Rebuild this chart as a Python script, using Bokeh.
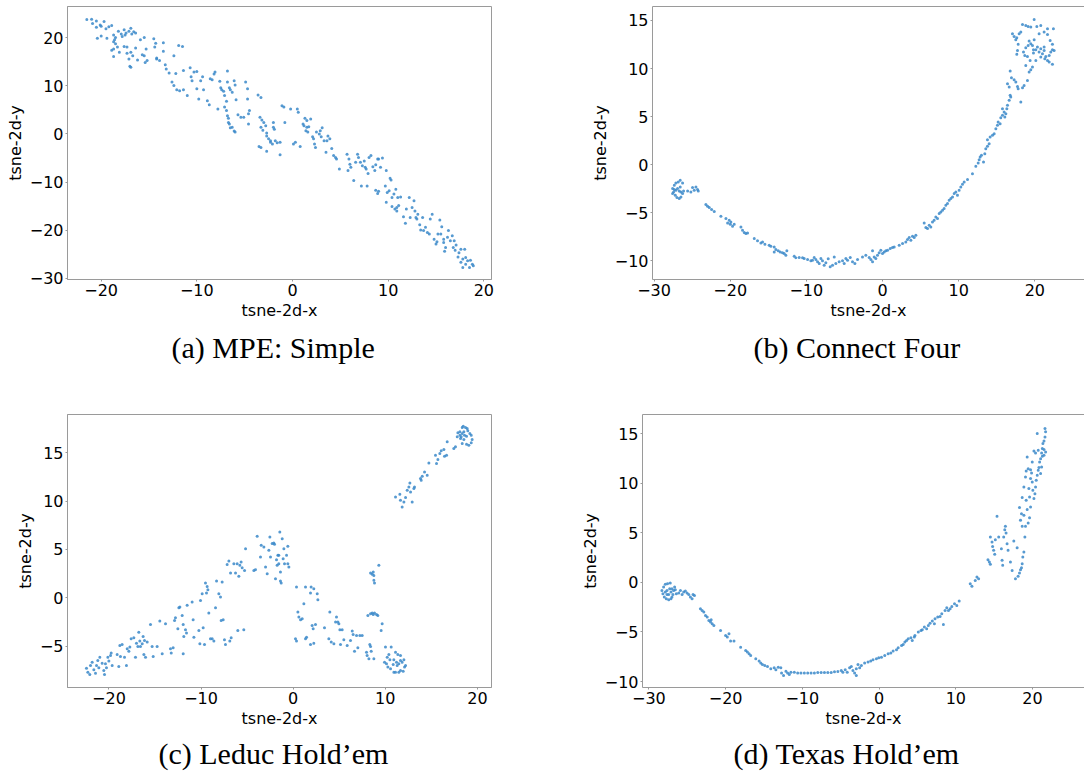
from bokeh.plotting import figure
from bokeh.models import Range1d, FixedTicker, LinearAxis
from bokeh.layouts import row, column
from bokeh.embed import file_html
from bokeh.resources import INLINE

# ---------------- data ----------------
mpe_pts = [
    (-21.5, 23.8), (-21.0, 23.9), (-20.9, 23.0), (-20.5, 23.5), (-20.1, 22.7), (-19.7, 23.4), (-20.5, 22.2),
    (-20.0, 22.4), (-19.5, 21.9), (-19.2, 22.3), (-18.9, 22.6), (-20.4, 19.9), (-20.0, 20.4), (-19.4, 19.9),
    (-18.7, 20.6), (-18.5, 20.1), (-18.2, 21.4), (-17.9, 20.8), (-17.6, 21.7), (-17.5, 20.6), (-17.4, 21.0),
    (-17.1, 21.4), (-16.9, 22.0), (-16.8, 20.8), (-16.6, 21.3), (-16.4, 21.0),
    (-18.7, 19.2), (-18.6, 19.6), (-18.5, 18.8), (-18.3, 18.1), (-18.7, 17.7), (-18.9, 17.4), (-18.7, 16.1),
    (-18.1, 17.0), (-17.8, 20.3), (-17.6, 18.2), (-17.3, 18.1), (-17.3, 16.8), (-16.9, 17.0), (-17.1, 15.6),
    (-17.0, 14.1), (-16.9, 13.9), (-16.7, 16.3), (-16.4, 17.9), (-16.2, 15.4), (-15.9, 19.6), (-15.7, 16.5),
    (-15.5, 16.3), (-15.5, 20.1), (-15.3, 17.7), (-15.4, 14.9), (-15.2, 15.3), (-14.5, 19.8), (-14.4, 18.1),
    (-14.3, 18.9), (-14.2, 15.6), (-14.2, 15.8), (-13.9, 15.3), (-13.5, 17.2), (-13.5, 19.0), (-13.3, 14.4),
    (-13.2, 13.5), (-12.9, 12.7), (-12.4, 16.3), (-11.9, 18.4), (-11.5, 18.2), (-11.4, 13.2), (-12.2, 12.6),
    (-12.6, 10.8), (-12.4, 10.1), (-12.1, 9.2), (-11.8, 9.0), (-11.4, 9.2), (-11.0, 8.0), (-10.7, 13.8),
    (-10.6, 11.9), (-10.5, 11.1), (-10.3, 12.9), (-10.0, 13.0), (-10.0, 9.4), (-9.8, 7.3), (-9.6, 11.1),
    (-9.4, 11.9), (-9.3, 9.2), (-8.9, 6.9), (-8.7, 6.1), (-8.6, 11.5), (-8.4, 11.3), (-8.2, 12.5),
    (-8.1, 12.9), (-7.8, 5.2), (-7.6, 11.0), (-7.5, 9.6), (-7.4, 9.2), (-7.2, 8.9), (-7.1, 8.0),
    (-6.9, 6.8), (-6.8, 13.1), (-6.8, 10.8), (-6.6, 9.6), (-6.5, 9.2), (-6.3, 8.7), (-6.1, 11.1),
    (-6.0, 10.2), (-5.9, 7.1), (-5.7, 4.0), (-5.4, 3.5), (-4.9, 10.8), (-5.1, 3.5), (-4.7, 9.4),
    (-4.7, 7.3), (-4.6, 4.2), (-4.5, 4.9), (-4.6, 2.1),
    (-7.1, 5.6), (-6.9, 4.9), (-6.8, 3.8), (-6.7, 3.3), (-6.7, 2.4), (-6.6, 2.1), (-6.5, 1.3),
    (-6.3, 1.4), (-6.1, 0.6), (-6.0, 0.4),
    (-3.6, 8.1), (-3.3, 7.6), (-3.4, 3.5), (-3.2, 2.9), (-3.0, 2.4), (-2.8, 1.7), (-3.3, 1.4),
    (-3.1, 0.8), (-2.7, 0.2), (-2.7, -0.4), (-2.5, -1.0), (-2.3, -1.7), (-2.1, -2.1), (-2.0, 1.4),
    (-2.0, 2.4), (-1.9, 1.0), (-3.5, -2.6), (-3.3, -2.8), (-2.7, -3.6), (-2.3, -1.4), (-1.8, -1.4),
    (-1.6, -1.8), (-1.3, -1.7), (-1.3, -4.3), (-1.1, 5.9), (-0.9, 5.6), (-0.8, 2.4), (-0.2, 5.2),
    (0.1, -2.1), (0.3, -1.7), (0.5, 5.2), (0.6, 4.5), (0.8, -2.6), (1.1, 2.1), (1.2, 1.7),
    (1.3, 3.3), (1.5, 2.8), (1.4, 0.7), (1.5, 1.4), (1.6, 0.4), (1.7, 1.5), (1.9, 3.1),
    (2.1, -0.6), (2.2, -1.0), (2.3, -2.1), (2.4, -2.8), (2.5, 0.4), (2.8, 0.0), (2.9, 0.7),
    (3.0, -0.6), (3.1, 1.3), (3.3, -1.4), (3.6, -1.4), (3.7, -0.4), (3.5, -3.8), (3.9, -1.0),
    (4.1, -3.0), (4.3, -4.5), (4.5, -4.9), (4.6, -5.2), (4.9, -7.3),
    (5.7, -4.2), (5.9, -5.2), (6.0, -6.3), (6.1, -6.9), (5.8, -7.6), (6.4, -9.7), (6.6, -5.9),
    (6.8, -4.2), (6.9, -4.9), (7.1, -5.9), (7.2, -10.8), (7.3, -6.6), (7.5, -5.6), (7.6, -6.9),
    (7.7, -7.3), (7.8, -10.8), (7.9, -8.2), (8.0, -4.9), (8.2, -4.5), (8.4, -6.8), (8.7, -6.4),
    (8.6, -7.6), (8.9, -5.2), (9.0, -5.2), (9.2, -6.9), (9.4, -5.0), (9.8, -7.6),
    (8.7, -11.7), (8.9, -12.4), (9.0, -11.9), (9.7, -10.8), (9.9, -12.2), (9.8, -14.2), (10.1, -11.8),
    (10.2, -9.2), (10.3, -9.6), (10.4, -13.2), (10.6, -12.5), (10.8, -11.5), (10.9, -15.3), (11.0, -13.2),
    (11.3, -13.1), (10.4, -15.1), (10.7, -15.6), (10.9, -16.0), (11.1, -14.9), (11.6, -17.2), (11.8, -18.6),
    (11.9, -15.6), (12.2, -13.2), (12.3, -17.4), (12.5, -15.3), (12.7, -13.9), (12.8, -16.0), (12.9, -17.4),
    (13.0, -17.7), (13.1, -16.7), (13.3, -18.9), (13.4, -20.0), (13.6, -17.4), (13.7, -20.1), (13.9, -19.4),
    (14.1, -20.5), (14.3, -20.8), (14.4, -17.7), (14.6, -16.7),
    (14.8, -21.9), (15.0, -22.9), (15.1, -22.4), (15.2, -20.8), (15.4, -17.9), (15.5, -20.8), (15.6, -19.3),
    (15.8, -21.9), (15.9, -24.4), (16.0, -23.6), (15.8, -22.6), (16.2, -21.5), (16.3, -20.1), (16.5, -22.2),
    (16.7, -21.2), (16.8, -23.6), (16.9, -22.2), (17.0, -24.2), (17.1, -23.1), (17.3, -25.6), (17.4, -24.7),
    (17.6, -24.0), (17.8, -26.0), (18.0, -24.0), (18.1, -25.7), (17.6, -26.7), (17.8, -27.8), (18.1, -27.1),
    (18.3, -26.4), (18.5, -27.8), (18.6, -26.3), (18.8, -27.1), (18.9, -27.4),
]

connect4_pts = [
    (-27.56, -2.49), (-27.43, -2.84), (-27.34, -2.15), (-27.21, -3.19), (-27.13, -1.91), (-26.99, -3.43),
    (-26.82, -1.80), (-26.69, -3.53), (-26.47, -3.36), (-26.25, -1.91), (-26.25, -3.01), (-26.56, -2.32),
    (-26.91, -2.49), (-26.69, -2.74), (-27.13, -2.67), (-26.47, -2.84), (-26.12, -2.74), (-27.34, -2.60),
    (-27.56, -3.01), (-25.59, -2.74), (-25.16, -2.84), (-24.94, -2.39), (-24.72, -2.67), (-24.50, -2.32),
    (-24.28, -2.60), (-24.19, -2.74), (-26.56, -1.63),
    (-23.19, -4.16), (-22.97, -4.33), (-22.75, -4.47), (-22.44, -4.68), (-22.09, -4.88), (-21.22, -5.37),
    (-20.56, -5.61), (-20.13, -5.79), (-19.99, -6.20), (-19.69, -6.41), (-19.47, -6.20), (-19.91, -5.96),
    (-20.34, -6.06), (-18.59, -6.48), (-18.38, -6.82), (-18.16, -7.07), (-17.94, -7.17), (-17.72, -7.10),
    (-16.84, -7.69), (-16.41, -7.93), (-15.97, -8.14), (-15.75, -8.04), (-15.44, -8.28), (-14.88, -8.38),
    (-14.66, -8.49), (-14.22, -8.56), (-14.00, -8.83), (-13.69, -8.97), (-13.43, -9.08), (-13.13, -9.18),
    (-12.91, -9.25), (-12.69, -9.42), (-14.22, -9.08), (-12.56, -8.97), (-11.59, -9.53), (-11.38, -9.70),
    (-10.94, -9.66), (-10.50, -9.70), (-10.28, -9.77), (-9.84, -9.87), (-9.41, -10.01), (-9.19, -9.94),
    (-8.97, -9.66), (-8.75, -9.87), (-8.53, -10.11), (-8.31, -10.29), (-8.09, -9.77), (-7.88, -10.01),
    (-7.66, -10.46), (-7.44, -10.22), (-7.13, -9.80), (-6.87, -10.63), (-6.56, -10.46), (-6.34, -9.60),
    (-6.13, -10.29), (-5.69, -10.11), (-5.25, -10.01), (-5.03, -10.29), (-4.81, -9.77), (-4.59, -9.94),
    (-4.24, -9.66), (-3.94, -10.11), (-3.63, -10.29), (-3.28, -9.87), (-2.63, -9.60), (-2.19, -9.42),
    (-1.75, -9.66), (-1.53, -9.87), (-1.31, -10.11), (-1.09, -9.60), (-1.31, -8.97), (-0.88, -9.77),
    (-0.66, -9.42), (-0.44, -9.18), (-0.22, -8.90), (0.00, -9.25), (0.22, -9.08), (0.44, -8.97),
    (0.66, -8.90), (1.01, -8.73), (1.31, -8.63), (1.53, -8.56), (2.19, -8.38), (2.63, -8.21),
    (3.06, -8.04), (3.28, -7.79), (3.50, -7.59), (3.72, -7.86), (3.94, -7.45), (4.16, -7.59),
    (4.38, -7.34), (5.47, -6.06), (5.69, -6.55), (5.91, -6.65), (6.13, -6.30), (6.34, -6.48),
    (6.56, -5.96), (6.78, -5.79), (7.00, -5.44), (7.22, -5.61), (7.44, -5.09), (7.66, -4.92),
    (7.88, -4.75), (8.09, -4.57), (8.31, -4.23), (8.53, -4.05), (8.75, -3.71), (8.97, -3.53),
    (9.19, -3.36), (9.41, -3.01), (9.63, -2.84), (9.84, -3.19), (10.06, -2.67), (10.28, -2.32),
    (10.50, -2.04), (10.72, -1.80), (11.16, -1.56), (11.81, -0.94), (12.25, -0.17), (12.56, 0.17),
    (12.69, 0.52), (12.82, 0.80), (12.99, 0.97), (13.26, 0.28), (13.43, 1.14), (13.56, 1.66),
    (13.78, 1.91), (14.00, 2.18), (13.78, 2.60), (14.13, 2.88), (14.44, 3.05), (14.66, 3.22),
    (14.88, 3.74), (15.09, 4.09), (15.18, 4.43), (15.44, 4.26), (15.53, 4.88), (15.75, 5.13),
    (15.97, 5.47), (15.75, 5.82), (16.06, 4.95), (16.19, 5.30), (16.32, 5.82), (16.41, 6.17),
    (16.63, 6.69), (16.76, 7.21), (16.84, 7.03), (16.63, 8.07), (16.41, 8.42), (16.76, 9.73),
    (16.93, 9.04), (17.28, 8.83), (17.50, 8.59), (17.72, 8.14), (17.81, 7.90), (18.16, 6.51),
    (18.38, 8.00), (18.59, 8.24), (19.03, 8.76), (19.25, 9.63), (19.47, 9.87), (19.69, 10.15),
    (19.38, 10.84), (18.81, 10.32), (19.03, 11.26), (18.68, 11.36), (18.51, 11.71), (18.81, 12.16),
    (19.12, 12.40), (19.47, 12.57), (19.91, 12.99), (20.13, 11.95), (20.34, 12.23), (20.56, 11.71),
    (20.78, 11.19), (21.00, 11.54), (21.22, 11.88), (21.31, 11.02), (21.44, 11.26), (21.66, 10.84),
    (21.88, 11.36), (22.09, 11.71), (22.31, 11.95), (22.53, 11.88), (22.31, 10.43), (21.88, 10.67),
    (20.78, 12.05), (19.82, 11.95), (19.69, 12.40), (19.91, 15.10), (19.47, 14.31), (20.26, 14.38),
    (20.56, 13.61), (20.78, 14.48), (21.22, 13.79), (21.66, 13.54), (22.01, 12.92), (22.31, 12.51),
    (22.44, 14.13), (21.66, 14.13), (21.22, 12.23), (17.06, 13.61), (17.28, 13.34), (17.63, 13.20),
    (17.94, 13.61), (18.16, 13.79), (17.50, 12.99), (17.81, 12.51), (18.38, 14.58), (18.81, 14.48),
    (19.12, 14.38), (17.72, 11.88), (17.63, 11.47), (20.13, 10.84), (19.82, 11.60), (19.25, 12.85),
]

leduc_pts = [
    (-22.44, -7.29), (-22.29, -7.70), (-22.08, -7.94), (-22.00, -7.01), (-21.82, -6.67), (-21.64, -7.46),
    (-21.46, -7.81), (-21.35, -7.01), (-21.21, -6.49), (-21.10, -7.25), (-20.99, -6.15), (-20.74, -6.77),
    (-20.56, -7.53), (-20.48, -7.94), (-20.38, -6.84), (-20.27, -7.25), (-20.12, -6.15), (-20.01, -6.56),
    (-19.83, -5.98), (-19.76, -5.73), (-19.65, -7.01), (-19.11, -5.87), (-18.93, -7.12), (-18.82, -4.94),
    (-18.75, -6.08), (-18.57, -4.84), (-18.31, -6.15), (-18.10, -7.01), (-18.02, -5.28), (-17.84, -5.53),
    (-17.73, -5.11), (-17.59, -4.25), (-17.30, -4.14), (-17.12, -6.15), (-17.01, -4.70), (-16.86, -5.04),
    (-16.76, -3.56), (-16.65, -4.49), (-16.58, -5.04), (-16.39, -4.77), (-16.29, -4.01), (-16.21, -5.87),
    (-16.14, -4.42), (-16.03, -6.15), (-15.85, -4.59), (-15.49, -2.76), (-15.31, -5.04), (-15.20, -6.08),
    (-14.77, -5.04), (-14.48, -2.42), (-14.22, -5.80), (-13.86, -2.69), (-13.32, -5.28), (-13.24, -5.73),
    (-13.03, -5.18), (-12.88, -2.35), (-12.78, -2.07), (-12.52, -3.21), (-12.41, -1.04), (-12.30, -0.97),
    (-12.05, -1.83), (-11.94, -2.76), (-11.87, -4.01), (-11.94, -5.80), (-11.69, -3.32), (-11.58, -3.66),
    (-11.51, -0.79), (-10.97, -0.45), (-10.86, -2.28), (-10.78, -4.08), (-10.24, -3.38), (-10.13, -4.77),
    (-10.06, -0.28), (-9.88, 0.41), (-9.77, -3.11), (-9.63, -4.84), (-9.52, 1.52), (-9.41, 0.48),
    (-9.34, 1.17), (-9.26, 0.83), (-9.16, -1.59), (-8.98, -4.25), (-8.79, -4.25), (-8.61, -4.49),
    (-8.43, -1.04), (-8.32, 1.73), (-8.07, 0.41), (-7.89, 0.07), (-7.82, -2.35), (-7.71, 1.62),
    (-7.60, -2.28), (-7.46, -4.35), (-7.35, -4.84), (-7.17, 3.45), (-6.98, 3.80), (-6.88, -4.49),
    (-6.80, 2.56), (-6.73, -4.14), (-6.44, 3.52), (-6.26, 2.56), (-6.08, 3.52), (-6.01, -3.38),
    (-5.90, 2.21), (-5.79, 3.35), (-5.65, 3.70), (-5.54, 3.11), (-5.36, -3.32), (-5.28, 2.83),
    (-5.17, 5.08),
    (-4.27, 2.83), (-4.09, 2.90), (-3.91, 6.36), (-3.55, 4.21), (-3.47, 5.42), (-3.18, 5.25),
    (-3.00, 3.18), (-2.82, 2.49), (-2.64, 4.90), (-2.53, 6.29), (-2.46, 4.21), (-2.28, 5.60),
    (-2.10, 5.66), (-2.03, 5.53), (-1.92, 1.97), (-1.74, 3.35), (-1.66, 4.39), (-1.56, 3.52),
    (-1.45, 6.80), (-1.38, 2.66), (-1.38, 1.73), (-1.19, 6.11), (-1.09, 4.04), (-1.01, 5.08),
    (-0.94, 3.52), (-0.72, 4.39), (-0.58, 5.32), (-0.58, 3.52), (-0.47, 3.18), (-1.56, 4.39),
    (-1.81, 3.94), (-1.30, 1.52),
    (0.36, 1.11), (0.51, -1.49), (0.62, -2.00), (0.80, -2.28), (0.98, -2.18), (1.34, 1.11),
    (1.88, 0.48), (1.95, 1.11), (2.24, 0.93), (2.61, 0.41), (2.68, -0.21), (1.16, -0.62),
    (0.25, -4.25), (0.36, -4.49), (1.34, -4.25), (1.45, -4.08), (1.88, -4.84), (2.24, -4.70),
    (2.06, -2.87), (2.17, -3.21), (2.42, -2.76), (3.40, -3.11), (3.87, -4.25), (3.98, -1.49),
    (4.13, -4.59), (4.42, -4.77), (4.60, -2.52), (4.70, -2.00), (4.96, -2.69), (5.07, -3.32),
    (5.32, -3.32), (5.14, -4.84), (5.50, -4.35), (5.86, -4.94), (6.22, -4.42), (6.41, -3.45),
    (6.51, -3.80), (6.66, -5.53), (6.88, -3.90), (7.02, -5.18), (7.24, -3.90), (7.49, -3.90),
    (7.96, -5.63), (8.03, -5.98), (8.22, -6.32), (8.32, -4.84), (8.40, -5.04), (8.47, -5.53),
    (8.76, -6.32), (4.85, -2.52),
    (8.40, 2.56), (8.58, 2.42), (8.76, 2.31), (8.76, 1.80), (8.83, 1.52), (8.69, 2.66),
    (9.30, 3.35), (8.11, -1.83), (8.40, -1.66), (8.58, -1.59), (8.69, -1.73), (8.83, -1.59),
    (9.05, -1.73), (9.19, -1.83), (9.66, -2.69), (9.55, -3.38),
    (10.02, -5.11), (10.64, -5.11), (10.21, -6.15), (10.39, -5.87), (10.50, -6.42), (10.13, -6.84),
    (9.92, -6.67), (10.28, -7.18), (10.57, -7.36), (10.93, -7.70), (11.11, -7.70), (11.47, -7.70),
    (11.65, -7.53), (11.94, -7.60), (12.09, -7.18), (11.83, -6.67), (12.02, -6.42), (12.20, -7.01),
    (11.11, -5.63), (11.36, -5.87), (11.65, -5.98), (11.22, -6.67), (11.47, -6.84), (10.93, -6.42),
    (10.86, -6.91), (11.29, -7.01), (11.65, -6.49),
    (11.11, 10.43), (11.58, 10.71), (11.65, 10.09), (11.83, 9.39), (12.02, 9.91), (12.20, 10.36),
    (12.38, 11.12), (12.56, 11.47), (12.67, 11.88), (12.74, 10.95), (12.92, 9.91), (13.10, 11.29),
    (13.17, 11.47), (13.82, 12.33), (13.90, 12.16), (14.01, 12.57), (14.26, 13.02), (14.55, 12.68),
    (14.73, 13.95), (15.45, 14.75), (15.56, 13.89), (15.71, 14.30), (15.92, 14.92), (16.07, 15.20),
    (16.36, 15.34), (16.43, 14.65), (16.65, 14.75), (16.72, 16.13), (17.44, 15.44), (17.62, 15.61),
    (17.81, 16.65), (17.88, 17.06), (18.10, 17.17), (18.17, 16.48), (18.35, 17.62), (18.46, 17.75),
    (18.71, 17.62), (18.89, 17.51), (18.96, 17.27), (19.18, 16.99), (19.33, 16.82), (19.43, 16.37),
    (19.33, 16.03), (19.07, 15.78), (18.82, 15.89), (18.53, 16.37), (18.35, 15.96), (18.10, 16.82),
    (18.24, 16.65), (18.60, 16.82), (18.82, 16.72), (18.53, 17.17), (18.35, 16.99),
]

texas_pts = [
    (-28.30, -0.81), (-28.17, -1.14), (-28.08, -0.47), (-27.99, -1.48), (-27.86, -0.20), (-27.73, -1.65),
    (-27.56, -0.13), (-27.42, -1.75), (-27.21, -0.07), (-27.12, -1.65), (-27.29, -0.64), (-27.64, -0.81),
    (-27.42, -1.21), (-27.86, -0.98), (-27.12, -0.98), (-26.99, -0.64), (-26.86, -1.21), (-26.77, -0.81),
    (-26.64, -0.47), (-26.42, -1.14), (-26.11, -1.08), (-25.89, -0.81), (-25.67, -1.21), (-25.46, -0.98),
    (-25.24, -0.87), (-25.02, -1.08), (-24.80, -1.21), (-24.59, -1.48), (-24.37, -1.65), (-24.24, -1.21),
    (-24.06, -1.31), (-27.64, -1.21), (-26.99, -1.48), (-26.55, -0.74),
    (-23.28, -2.66), (-23.06, -2.83), (-22.84, -2.99), (-22.62, -3.33), (-22.40, -3.50), (-22.18, -3.84),
    (-21.97, -4.00), (-21.75, -4.17), (-21.53, -4.34), (-21.88, -3.77), (-20.66, -4.85), (-20.00, -5.35),
    (-19.78, -5.52), (-19.56, -5.18), (-19.35, -5.92), (-18.91, -5.92), (-18.04, -6.53), (-17.38, -6.86),
    (-17.16, -7.03), (-16.94, -7.20), (-16.73, -7.37), (-16.07, -7.71), (-15.63, -7.94), (-15.42, -8.14),
    (-15.20, -8.28), (-14.89, -8.38), (-14.54, -8.48), (-14.11, -8.72), (-13.67, -8.61), (-13.45, -8.82),
    (-13.14, -8.55), (-12.80, -8.61), (-12.71, -9.15), (-12.45, -9.39), (-12.14, -8.95), (-11.92, -9.15),
    (-11.70, -9.29), (-11.49, -9.05), (-11.05, -9.05), (-10.61, -9.15), (-10.18, -9.15), (-9.74, -9.15),
    (-9.30, -9.15), (-8.86, -9.15), (-8.43, -9.15), (-7.99, -9.09), (-7.55, -9.09), (-7.12, -9.09),
    (-6.68, -9.09), (-6.24, -9.09), (-5.81, -9.02), (-5.37, -8.98), (-4.93, -8.88), (-4.72, -9.05),
    (-4.41, -8.82), (-4.15, -9.05), (-3.84, -8.61), (-3.62, -8.48), (-3.41, -8.88), (-3.19, -9.15),
    (-2.97, -8.72), (-2.75, -8.28), (-2.97, -9.39), (-2.53, -8.61), (-2.31, -8.38), (-1.88, -8.14),
    (-1.44, -8.04), (-1.09, -7.94), (-0.79, -7.81), (-0.35, -7.71), (-0.04, -7.60), (0.31, -7.54),
    (0.74, -7.37), (1.18, -7.20), (1.53, -7.13), (1.83, -6.93), (2.27, -6.80), (2.49, -6.60),
    (2.93, -6.36), (3.14, -6.26), (3.36, -6.02), (3.58, -5.86), (3.80, -5.69), (4.15, -5.59),
    (4.32, -5.86), (4.59, -5.52), (4.67, -5.35), (5.11, -5.01), (5.46, -4.85), (5.63, -4.78),
    (5.90, -4.51), (6.20, -4.68), (6.42, -4.34), (6.64, -4.11), (6.94, -3.90), (7.21, -4.17),
    (7.29, -3.67), (7.64, -3.50), (7.95, -3.43), (8.17, -3.16), (8.38, -4.24), (8.60, -2.83),
    (8.82, -2.56), (9.04, -2.83), (9.26, -2.66), (9.48, -2.42), (9.83, -2.15), (10.13, -2.32),
    (10.44, -1.88),
    (11.88, -0.13), (12.10, -0.40), (12.53, 0.20), (12.75, 0.54), (12.97, 0.37), (14.19, 2.29),
    (14.37, 2.05), (14.50, 1.82), (14.72, 4.07), (14.80, 3.63), (14.93, 3.23), (15.07, 2.83),
    (14.50, 4.58), (15.15, 4.31), (15.37, 6.66), (15.59, 4.58), (15.94, 3.40), (16.03, 2.22),
    (16.11, 1.72), (16.24, 4.58), (16.38, 5.32), (16.46, 5.65), (16.55, 4.98), (16.68, 3.90),
    (16.81, 3.23), (17.12, 2.05), (17.34, 1.21), (17.56, 4.17), (17.77, 0.37), (17.99, 3.50),
    (18.12, 0.61), (18.30, 0.94), (18.43, 1.28), (18.56, 1.48), (18.65, 1.88), (18.73, 2.56),
    (18.87, 3.06), (19.00, 4.58), (18.65, 5.65), (18.43, 6.26), (18.56, 6.93), (18.30, 7.54),
    (18.65, 8.55), (18.87, 9.62), (19.08, 10.63), (19.17, 11.24), (19.30, 12.65), (19.43, 11.47),
    (19.52, 9.46), (19.61, 8.61), (19.74, 7.60), (19.61, 6.53), (19.43, 5.99), (19.74, 10.47),
    (19.87, 11.04), (19.96, 10.13), (20.04, 9.29), (20.18, 8.45), (20.31, 8.95), (20.39, 9.62),
    (20.48, 10.30), (20.61, 10.80), (20.74, 11.31), (20.83, 11.58), (20.92, 12.15), (21.05, 12.48),
    (21.18, 13.06), (21.27, 13.49), (21.35, 14.00), (21.49, 14.27), (21.62, 15.51), (21.70, 15.18),
    (21.62, 14.67), (21.49, 12.82), (21.18, 11.64), (21.05, 10.97), (20.74, 13.33), (20.61, 15.01),
    (20.39, 13.06), (20.18, 13.26), (19.96, 12.15), (19.74, 11.37), (21.49, 13.39), (21.70, 13.16),
    (21.27, 12.72), (18.87, 6.76), (19.08, 5.65), (19.30, 7.34), (19.17, 8.28),
]

captions = ["(a) MPE: Simple", "(b) Connect Four", "(c) Leduc Hold\u2019em", "(d) Texas Hold\u2019em"]
x_label = "tsne-2d-x"
y_label = "tsne-2d-y"

mpe_xticks = [-20, -10, 0, 10, 20]
mpe_yticks = [-30, -20, -10, 0, 10, 20]
c4_xticks = [-30, -20, -10, 0, 10, 20]
c4_yticks = [-10, -5, 0, 5, 10, 15]
leduc_xticks = [-20, -10, 0, 10, 20]
leduc_yticks = [-5, 0, 5, 10, 15]
texas_xticks = [-30, -20, -10, 0, 10, 20]
texas_yticks = [-10, -5, 0, 5, 10, 15]

# ---------------- styling ----------------
PT = "#3a88c9"
FRAME = "#9a9a9a"
TICKFONT = "DejaVu Sans"
CAPFONT = "Liberation Serif"


def lab(v):
    return ("\u2212%d" % -v) if v < 0 else "%d" % v


def style_axis(ax, ticks):
    ax.ticker = FixedTicker(ticks=ticks)
    ax.major_label_overrides = {t: lab(t) for t in ticks}
    ax.major_label_text_font = TICKFONT
    ax.major_label_text_font_size = "16px"
    ax.major_label_text_color = "#000000"
    ax.major_label_standoff = 2
    ax.major_tick_in = 0
    ax.major_tick_out = 2
    ax.major_tick_line_color = FRAME
    ax.minor_tick_line_color = None
    ax.axis_line_color = FRAME
    ax.axis_label_text_font = TICKFONT
    ax.axis_label_text_font_size = "16px"
    ax.axis_label_text_font_style = "normal"
    ax.axis_label_text_color = "#000000"
    ax.axis_label_standoff = 2


def panel(pts, xr, yr, xt, yt, cap, w, h, bl, br, bt, bb, cut_right, cap_off, cap_stand):
    p = figure(width=w, height=h, x_range=Range1d(*xr), y_range=Range1d(*yr),
               output_backend="svg", toolbar_location=None,
               title=cap, title_location="below",
               min_border_left=bl, min_border_right=br, min_border_top=bt, min_border_bottom=bb)
    p.background_fill_color = "white"
    p.border_fill_color = "white"
    p.grid.visible = False
    xs = [q[0] for q in pts]
    ys = [q[1] for q in pts]
    p.scatter(xs, ys, size=3.0, fill_color=PT, fill_alpha=0.85, line_color=None)
    p.xaxis.axis_label = x_label
    p.yaxis.axis_label = y_label
    style_axis(p.xaxis[0], xt)
    style_axis(p.yaxis[0], yt)
    if cut_right:
        p.outline_line_color = None
        top = LinearAxis(ticker=FixedTicker(ticks=[]), axis_line_color=FRAME,
                         major_tick_line_color=None, minor_tick_line_color=None,
                         major_label_text_font_size="0px", major_label_standoff=0,
                         major_tick_out=0, major_tick_in=0, minor_tick_out=0, minor_tick_in=0)
        p.add_layout(top, "above")
    else:
        p.outline_line_color = FRAME
        p.outline_line_width = 1
    t = p.title
    t.text_font = CAPFONT
    t.text_font_size = "30px"
    t.text_font_style = "normal"
    t.text_color = "#000000"
    t.align = "left"
    t.offset = cap_off
    t.standoff = cap_stand
    return p


pa = panel(mpe_pts, (-23.52, 20.80), (-30.28, 26.53), mpe_xticks, mpe_yticks, captions[0],
           540, 390, 67, 49, 6, 111, False, 104, 12)
pb = panel(connect4_pts, (-30.2, 26.52), (-11.95, 16.45), c4_xticks, c4_yticks, captions[1],
           544, 390, 112, 0, 6, 111, True, 101, 12)
pc = panel(leduc_pts, (-24.5, 21.53), (-9.29, 18.96), leduc_xticks, leduc_yticks, captions[2],
           540, 384, 67, 49, 24, 87, False, 91, 8)
pd = panel(texas_pts, (-30.83, 26.77), (-10.60, 16.93), texas_xticks, texas_yticks, captions[3],
           544, 384, 102, 0, 24, 87, True, 91, 8)

layout = column(row(pa, pb), row(pc, pd))
open("out.html", "w").write(file_html(layout, INLINE))
